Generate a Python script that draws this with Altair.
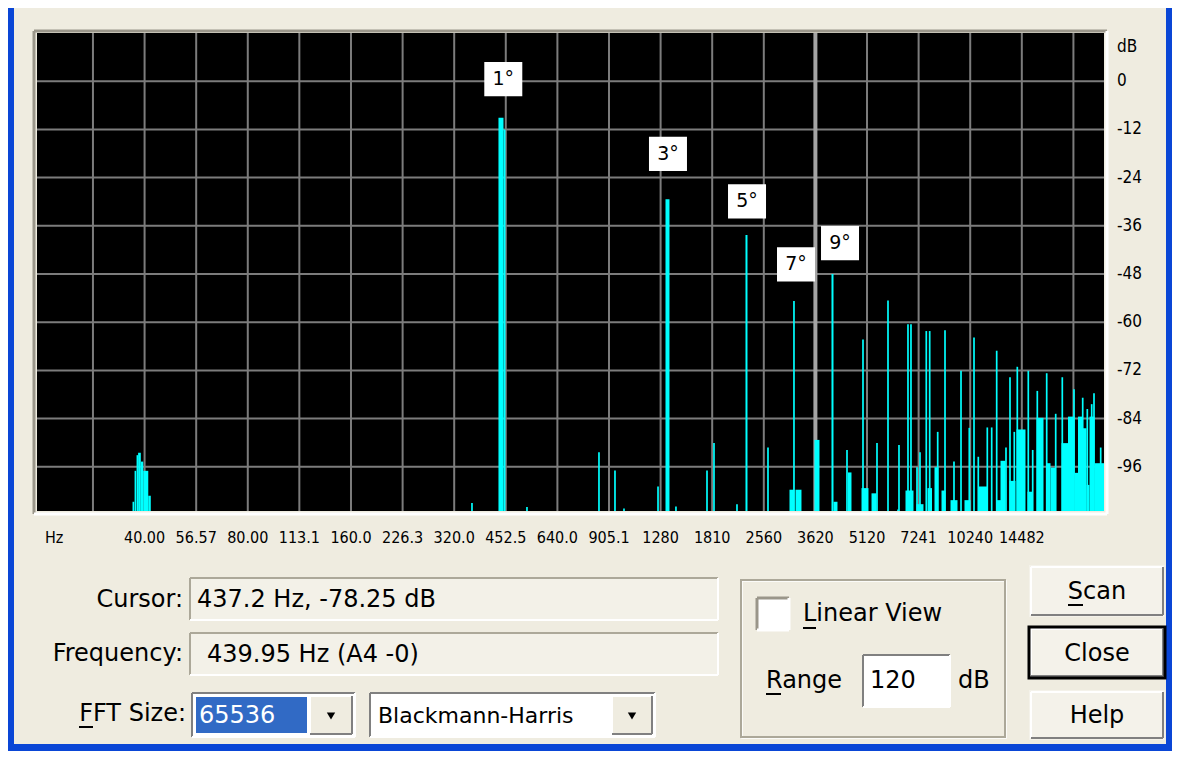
import altair as alt
import pandas as pd

# ---------------- spectrum data (frequency in Hz, level in dB) ----------------
peak_freq = [37.1, 360.6, 521.7, 846.2, 942.2, 1001, 1258, 1419, 1748, 1832, 2138, 2633,
             3135, 4476, 4984, 5475, 5895, 6305, 6347, 6742, 6879, 7163, 7308, 7624, 7800,
             8231, 8645, 9183, 9626, 10177, 10504, 10811, 11485, 11829, 12233, 13022,
             13377, 13768, 14049, 15126, 15580, 16069, 17116, 18183, 19006, 20560, 21798,
             22482, 23155, 23516, 24598]
peak_db = [-104.7, -105.0, -106.0, -92.4, -96.9, -106.4, -100.9, -105.9, -96.9, -90.1, -105.3, -91.2,
           -54.7, -91.8, -64.3, -90.1, -54.6, -106.6, -90.6, -60.5, -60.5, -96.1, -92.4, -62.2, -62.2,
           -87.3, -62.0, -94.7, -72.1, -86.3, -63.8, -93.5, -86.2, -86.2, -67.1, -91.2,
           -73.7, -87.3, -71.1, -72.1, -91.8, -77.1, -72.7, -82.8, -73.7, -76.7, -78.8,
           -81.6, -80.4, -77.7, -91.2]

band_lo = [37.4, 37.9, 38.3, 39.0, 39.65, 41.0, 430.8, 445.6, 1322.7, 2263.6, 3042, 3167,
           3598, 4033, 4088, 4506, 4934, 5277, 6630, 7139, 7686, 8056, 8444, 8970, 9854,
           10862, 12217, 12550, 13332, 13974, 15045, 15983, 17092, 17559, 18905, 19748,
           20630, 21121, 21768, 22361, 22816, 23595, 24483]
band_hi = [37.8, 38.3, 39.0, 39.65, 41.0, 41.7, 445.6, 451.6, 1358.7, 2294.2, 3146, 3297,
           3721, 4088, 4199, 4613, 5171, 5457, 6996, 7482, 7922, 8275, 8673, 9402, 10260,
           11462, 12593, 12979, 13880, 14845, 15559, 16752, 17559, 18158, 19748, 20630,
           21121, 21768, 22361, 22816, 23595, 24483, 25150]
band_db = [-97.0, -93.1, -92.5, -94.7, -97.0, -103.2, -9.1, -12.0, -29.4, -38.3, -101.7, -101.7,
           -89.3, -48.0, -104.7, -97.4, -101.3, -102.6, -101.9, -105.3, -101.3, -96.1, -101.9, -104.3, -104.3,
           -100.9, -104.3, -94.5, -99.5, -86.7, -102.2, -83.8, -95.1, -96.2, -90.1, -83.5,
           -97.5, -83.5, -86.4, -100.5, -83.5, -95.1, -95.1]

harm_labels = ["1°", "3°", "5°", "7°", "9°"]
harm_label_freq = [445, 1345, 2287, 3178, 4271]
harm_label_db = [0.5, -18.1, -29.9, -45.6, -40.3]

grid_freq = [28.28, 40, 56.57, 80, 113.1, 160, 226.3, 320, 452.5, 640, 905.1, 1280,
             1810, 2560, 3620, 5120, 7241, 10240, 14482, 20480]
freq_labels = ["40.00", "56.57", "80.00", "113.1", "160.0", "226.3", "320.0", "452.5", "640.0",
               "905.1", "1280", "1810", "2560", "3620", "5120", "7241", "10240", "14482"]
freq_label_pos = grid_freq[1:19]
db_ticks = [0, -12, -24, -36, -48, -60, -72, -84, -96]
db_labels = ["0", "-12", "-24", "-36", "-48", "-60", "-72", "-84", "-96"]
cursor_freq = [3620]

FREQ_MIN, FREQ_MAX = 19.42, 25150
DB_MIN, DB_MAX = -107, 12

# ---------------- layout ----------------
PX0, PY0 = 37, 33          # page position of plot origin
W, H = 1067, 478
BG = "#EFECE0"
CYAN = "#00FFFF"
GRID = "#7C7C7C"
UI_FONT = "DejaVu Sans"
AX_FONT = "DejaVu Sans Condensed"

xs = alt.Scale(type="log", domain=[FREQ_MIN, FREQ_MAX], nice=False)
ys = alt.Scale(domain=[DB_MIN, DB_MAX], nice=False, zero=False)

peaks = pd.DataFrame({"freq": peak_freq, "db": peak_db})
bands = pd.DataFrame({"lo": band_lo, "hi": band_hi, "db": band_db})
harm = pd.DataFrame({"freq": harm_label_freq, "db": harm_label_db, "label": harm_labels})
ticks = pd.DataFrame({"freq": freq_label_pos, "label": freq_labels})
vgrid = pd.DataFrame({"freq": grid_freq})
hgrid = pd.DataFrame({"db": db_ticks, "label": db_labels})
cur = pd.DataFrame({"freq": cursor_freq})

ONE = alt.Data(values=[{}])


def px(x):
    return alt.value(x - PX0)


def py(y):
    return alt.value(y - PY0)


def rect(x1, y1, x2, y2, fill=None, stroke=None, sw=0):
    kw = {}
    if fill is None:
        kw["fillOpacity"] = 0
        kw["fill"] = "#000000"
    else:
        kw["fill"] = fill
    if stroke is not None:
        kw["stroke"] = stroke
        kw["strokeWidth"] = sw
    return alt.Chart(ONE).mark_rect(**kw).encode(x=px(x1), x2=px(x2), y=py(y1), y2=py(y2))


def line(x1, y1, x2, y2, color, sw=2):
    return alt.Chart(ONE).mark_rule(color=color, strokeWidth=sw).encode(
        x=px(x1), x2=px(x2), y=py(y1), y2=py(y2))


def text(x, y, s, size=24, align="left", color="#000000", font=UI_FONT):
    return alt.Chart(ONE).mark_text(text=s, fontSize=size, align=align, baseline="middle",
                                    color=color, font=font).encode(x=px(x), y=py(y))


def bevel(x1, y1, x2, y2, sunken=True, dark="#808080", light="#FFFFFF", sw=2):
    tl = dark if sunken else light
    br = light if sunken else dark
    return [line(x1, y1, x2, y1, tl, sw), line(x1, y1, x1, y2, tl, sw),
            line(x1, y2, x2, y2, br, sw), line(x2, y1, x2, y2, br, sw)]


def tri(x, y):
    return alt.Chart(ONE).mark_point(shape="triangle-down", filled=True, size=70, opacity=1,
                                     color="#000000").encode(x=px(x), y=py(y))


# ---------------- plot layers ----------------
vgrid_layer = alt.Chart(vgrid).mark_rule(color=GRID, strokeWidth=2).encode(
    x=alt.X("freq:Q", scale=xs, axis=None))
hgrid_layer = alt.Chart(hgrid).mark_rule(color=GRID, strokeWidth=2).encode(
    y=alt.Y("db:Q", scale=ys, axis=None))
ylabel_layer = alt.Chart(hgrid).mark_text(fontSize=17, font=AX_FONT, color="#000000",
                                          align="left", baseline="middle").encode(
    y=alt.Y("db:Q", scale=ys, axis=None), x=alt.value(1117 - PX0), text="label:N")

cursor_layer = alt.Chart(cur).mark_rule(color="#A4A4A4", strokeWidth=4).encode(
    x=alt.X("freq:Q", scale=xs, axis=None))

band_layer = alt.Chart(bands).mark_rect(color=CYAN).encode(
    x=alt.X("lo:Q", scale=xs, axis=None), x2="hi:Q",
    y=alt.Y("db:Q", scale=ys, axis=None), y2=alt.datum(DB_MIN))

peak_layer = alt.Chart(peaks).mark_rule(color=CYAN, strokeWidth=1.7).encode(
    x=alt.X("freq:Q", scale=xs, axis=None),
    y=alt.Y("db:Q", scale=ys, axis=None), y2=alt.datum(DB_MIN))

harm_box = alt.Chart(harm).mark_point(shape="M-1,-0.9L1,-0.9L1,0.9L-1,0.9Z", size=1444,
                                      filled=True, fill="#FFFFFF", opacity=1, strokeWidth=0).encode(
    x=alt.X("freq:Q", scale=xs, axis=None), y=alt.Y("db:Q", scale=ys, axis=None))

harm_text = alt.Chart(harm).mark_text(fontSize=19, font=UI_FONT, color="#000000").encode(
    x=alt.X("freq:Q", scale=xs, axis=None), y=alt.Y("db:Q", scale=ys, axis=None), text="label:N")

tick_text = alt.Chart(ticks).mark_text(fontSize=16, font=AX_FONT, color="#000000",
                                       baseline="middle").encode(
    x=alt.X("freq:Q", scale=xs, axis=None), y=alt.value(538 - PY0), text="label:N")

layers = [vgrid_layer, hgrid_layer, cursor_layer, band_layer, peak_layer, harm_box, harm_text,
          tick_text, ylabel_layer,
          text(45, 538, "Hz", size=16, font=AX_FONT),
          text(1117, 47, "dB", size=17, font=AX_FONT)]

# plot frame
layers += bevel(34, 31, 1107, 514, sunken=True, dark="#9A968A", light="#FFFFFF", sw=3)

# window frame (blue)
layers += [rect(8, 8, 14, 751, fill="#0A46D6"), rect(1166, 8, 1172, 751, fill="#0A46D6"),
           rect(8, 744, 1172, 751, fill="#0A46D6")]

# Cursor / Frequency rows
layers += [text(183, 600, "Cursor:", align="right"),
           rect(190, 578, 718, 620, fill="#F3F1E8")]
layers += bevel(190, 578, 718, 620, sunken=True, dark="#ACA899")
layers += [text(197, 600, "437.2 Hz, -78.25 dB"),
           text(183, 654, "Frequency:", align="right"),
           rect(190, 633, 718, 675, fill="#F3F1E8")]
layers += bevel(190, 633, 718, 675, sunken=True, dark="#ACA899")
layers += [text(207, 655, "439.95 Hz (A4 -0)")]

# FFT size row
layers += [text(186, 714, "FFT Size:", align="right"),
           line(79, 727, 93, 727, "#000000", 2),
           rect(192, 693, 355, 737, fill="#FFFFFF")]
layers += bevel(192, 693, 355, 737, sunken=True)
layers += [rect(196, 697, 307, 733, fill="#316AC5"),
           text(199, 716, "65536", color="#FFFFFF"),
           rect(310, 696, 352, 734, fill=BG)]
layers += bevel(310, 696, 352, 734, sunken=False)
layers += [tri(331, 716), rect(370, 693, 655, 737, fill="#FFFFFF")]
layers += bevel(370, 693, 655, 737, sunken=True)
layers += [text(378, 716, "Blackmann-Harris", size=22), rect(612, 696, 652, 734, fill=BG)]
layers += bevel(612, 696, 652, 734, sunken=False)
layers += [tri(632, 716)]

# Group box with Linear View / Range
layers += [rect(742, 581, 1006, 738, stroke="#FFFFFF", sw=1.5),
           rect(741, 580, 1005, 737, stroke="#ACA899", sw=2),
           rect(757, 598, 789, 630, fill="#FFFFFF")]
layers += bevel(757, 598, 789, 630, sunken=True, dark="#9A968A", sw=3)
layers += [text(803, 614, "Linear View"), line(803, 628, 816, 628, "#000000", 2),
           text(766, 681, "Range"), line(766, 694, 781, 694, "#000000", 2),
           rect(863, 655, 950, 707, fill="#FFFFFF")]
layers += bevel(863, 655, 950, 707, sunken=True)
layers += [text(870, 681, "120"), text(958, 681, "dB")]

# Buttons
for (y1, y2, label, ul) in [(565, 617, "Scan", True), (627, 678, "Close", False),
                            (690, 740, "Help", False)]:
    layers += [rect(1029, y1, 1165, y2, fill="#F4F2EA")]
    layers += bevel(1031, y1 + 2, 1163, y2 - 2, sunken=False, dark="#808080", sw=2)
    if label == "Close":
        layers += [rect(1029, y1, 1165, y2, stroke="#000000", sw=3)]
    layers += [text(1097, (y1 + y2) / 2 + 1, label, align="center")]
    if ul:
        layers += [line(1068, y1 + 40, 1083, y1 + 40, "#000000", 2)]

chart = alt.layer(*layers).properties(
    width=W, height=H,
    padding={"left": PX0 - 8, "top": PY0 - 8, "right": 1164 - (PX0 - 8) - W,
             "bottom": 743 - (PY0 - 8) - H},
    autosize=alt.AutoSizeParams(type="none"),
    background=BG,
).configure_view(fill="#000000", stroke="#000000", strokeWidth=0)

chart.save("out.html", embed_options={"renderer": "svg", "actions": False})
